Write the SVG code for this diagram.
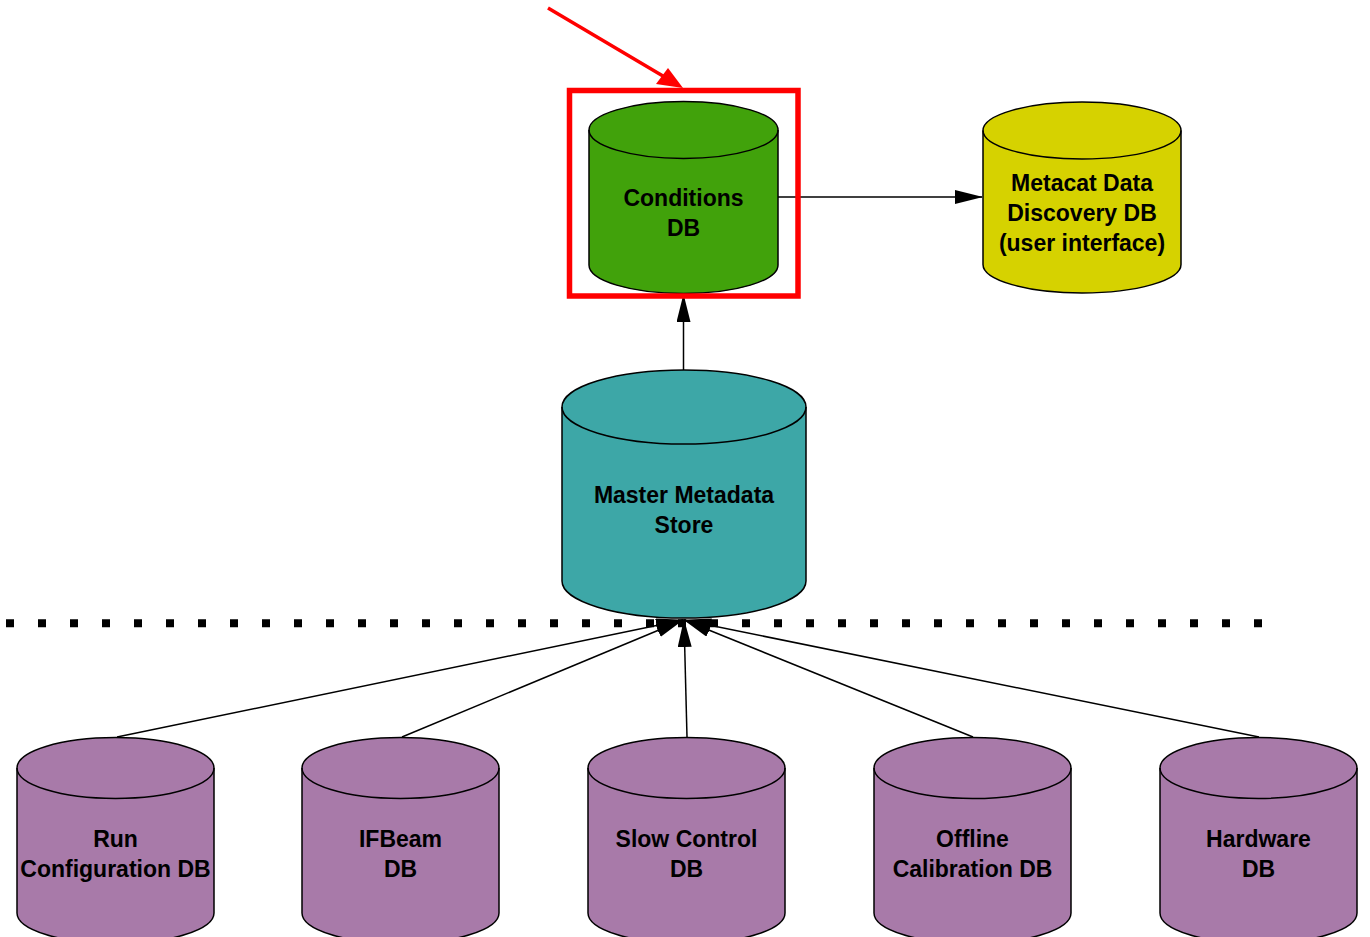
<svg xmlns="http://www.w3.org/2000/svg" width="1370" height="937" viewBox="0 0 1370 937">
<defs>
<style>
.cyl{stroke:#000;stroke-width:1.5}
.rim{fill:none;stroke:#000;stroke-width:1.5}
.lbl{font-family:"Liberation Sans",Arial,Helvetica,sans-serif;font-weight:bold;font-size:23px;text-anchor:middle;fill:#000}
.edge{stroke:#000;stroke-width:1.5;fill:none}
</style>
<marker id="ah" markerWidth="28" markerHeight="14" refX="27" refY="7" orient="auto" markerUnits="userSpaceOnUse">
<path d="M0,0 L28,7 L0,14 Z" fill="#000"/>
</marker>
</defs>
<rect width="1370" height="937" fill="#fff"/>

<g id="connectors">
<line class="edge" x1="778" y1="197" x2="982" y2="197" marker-end="url(#ah)"/>
<line class="edge" x1="683.5" y1="370" x2="683.5" y2="295" marker-end="url(#ah)"/>
<line class="edge" x1="117" y1="737" x2="683" y2="620" marker-end="url(#ah)"/>
<line class="edge" x1="402" y1="737" x2="683" y2="620" marker-end="url(#ah)"/>
<line class="edge" x1="687" y1="737" x2="684" y2="620" marker-end="url(#ah)"/>
<line class="edge" x1="973" y1="737" x2="684" y2="620" marker-end="url(#ah)"/>
<line class="edge" x1="1259" y1="737" x2="684" y2="620" marker-end="url(#ah)"/>
</g>

<line id="separator" x1="6" y1="623.3" x2="1270" y2="623.3" stroke="#000" stroke-width="8" stroke-dasharray="8 24"/>

<g id="conditions-db">
<path class="cyl" fill="#41a20b" d="M589,130 A94.5,28.5 0 0 1 778,130 L778,265 A94.5,28.5 0 0 1 589,265 Z"/>
<path class="rim" d="M589,130 A94.5,28.5 0 0 0 778,130"/>
<text class="lbl" x="683.5" y="206">Conditions</text>
<text class="lbl" x="683.5" y="236">DB</text>
</g>

<g id="highlight">
<rect x="569.5" y="90.5" width="228.5" height="205.5" fill="none" stroke="#f00" stroke-width="5.5"/>
<line x1="548" y1="8" x2="668" y2="79" stroke="#f00" stroke-width="3.5"/>
<polygon points="683,88 668,68 656,84" fill="#f00"/>
</g>

<g id="metacat-db">
<path class="cyl" fill="#d6d200" d="M983,130.5 A99,28.5 0 0 1 1181,130.5 L1181,264.5 A99,28.5 0 0 1 983,264.5 Z"/>
<path class="rim" d="M983,130.5 A99,28.5 0 0 0 1181,130.5"/>
<text class="lbl" x="1082" y="191">Metacat Data</text>
<text class="lbl" x="1082" y="221">Discovery DB</text>
<text class="lbl" x="1082" y="251">(user interface)</text>
</g>

<g id="master-metadata-store">
<path class="cyl" fill="#3da7a7" d="M562,407 A122,37 0 0 1 806,407 L806,581 A122,37 0 0 1 562,581 Z"/>
<path class="rim" d="M562,407 A122,37 0 0 0 806,407"/>
<text class="lbl" x="684" y="503">Master Metadata</text>
<text class="lbl" x="684" y="533">Store</text>
</g>

<g id="run-config-db">
<path class="cyl" fill="#a87aa9" d="M17,768 A98.5,30.5 0 0 1 214,768 L214,913 A98.5,30.5 0 0 1 17,913 Z"/>
<path class="rim" d="M17,768 A98.5,30.5 0 0 0 214,768"/>
<text class="lbl" x="115.5" y="847">Run</text>
<text class="lbl" x="115.5" y="877">Configuration DB</text>
</g>

<g id="ifbeam-db">
<path class="cyl" fill="#a87aa9" d="M302,768 A98.5,30.5 0 0 1 499,768 L499,913 A98.5,30.5 0 0 1 302,913 Z"/>
<path class="rim" d="M302,768 A98.5,30.5 0 0 0 499,768"/>
<text class="lbl" x="400.5" y="847">IFBeam</text>
<text class="lbl" x="400.5" y="877">DB</text>
</g>

<g id="slow-control-db">
<path class="cyl" fill="#a87aa9" d="M588,768 A98.5,30.5 0 0 1 785,768 L785,913 A98.5,30.5 0 0 1 588,913 Z"/>
<path class="rim" d="M588,768 A98.5,30.5 0 0 0 785,768"/>
<text class="lbl" x="686.5" y="847">Slow Control</text>
<text class="lbl" x="686.5" y="877">DB</text>
</g>

<g id="offline-calibration-db">
<path class="cyl" fill="#a87aa9" d="M874,768 A98.5,30.5 0 0 1 1071,768 L1071,913 A98.5,30.5 0 0 1 874,913 Z"/>
<path class="rim" d="M874,768 A98.5,30.5 0 0 0 1071,768"/>
<text class="lbl" x="972.5" y="847">Offline</text>
<text class="lbl" x="972.5" y="877">Calibration DB</text>
</g>

<g id="hardware-db">
<path class="cyl" fill="#a87aa9" d="M1160,768 A98.5,30.5 0 0 1 1357,768 L1357,913 A98.5,30.5 0 0 1 1160,913 Z"/>
<path class="rim" d="M1160,768 A98.5,30.5 0 0 0 1357,768"/>
<text class="lbl" x="1258.5" y="847">Hardware</text>
<text class="lbl" x="1258.5" y="877">DB</text>
</g>
</svg>
